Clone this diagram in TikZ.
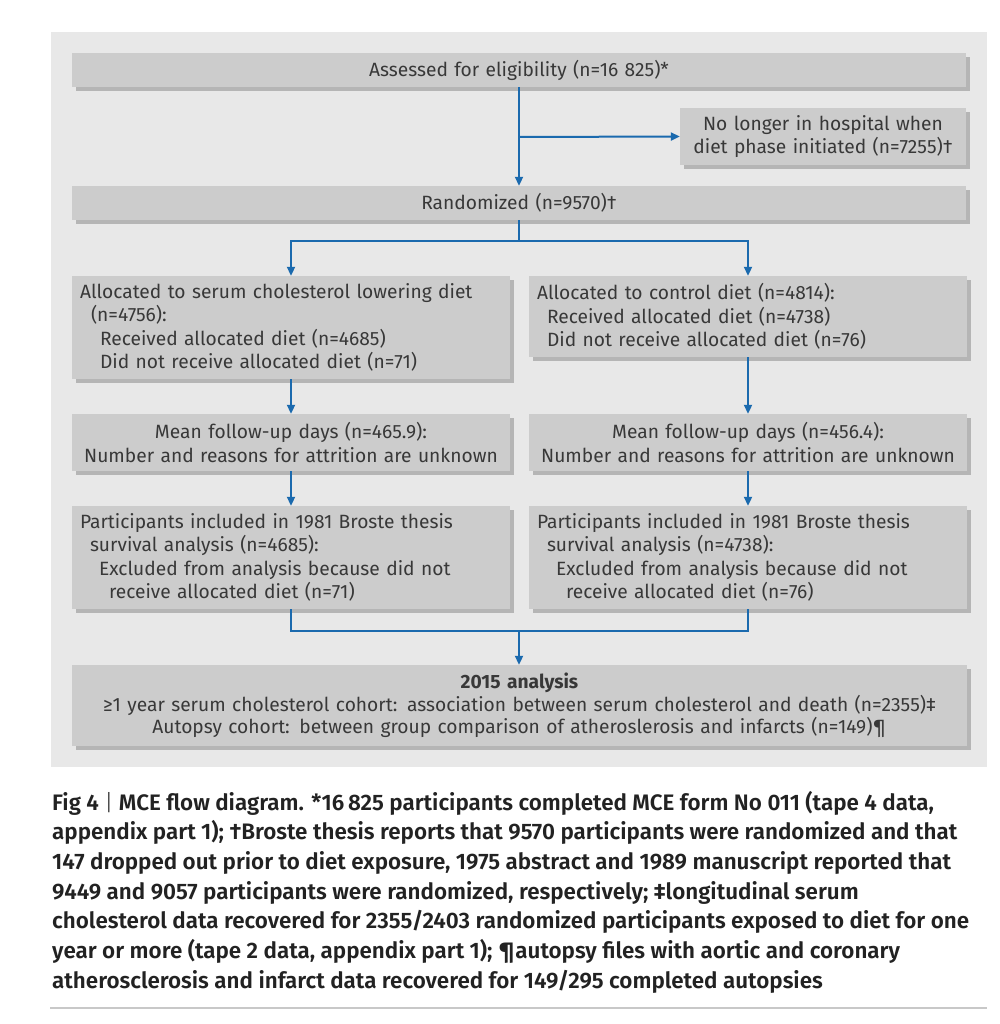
\documentclass[tikz,border=0pt]{standalone}
\usepackage{fontspec}
\setmainfont{Fira Sans}
\IfFontExistsTF{Fira Sans SemiBold}
  {\newfontfamily\capfont{Fira Sans SemiBold}\newcommand\capweight{}}
  {\IfFontExistsTF{Fira Sans Medium}
    {\newfontfamily\capfont{Fira Sans Medium}\newcommand\capweight{}}
    {\newfontfamily\capfont{Fira Sans}\newcommand\capweight{\bfseries}}}
\usetikzlibrary{arrows.meta,shadows}
\definecolor{panel}{HTML}{E8E8E8}
\definecolor{boxfill}{HTML}{CCCCCC}
\definecolor{boxshadow}{HTML}{B5B5B5}
\definecolor{flowblue}{HTML}{1B6AAE}
\definecolor{txt}{HTML}{383838}
\definecolor{captxt}{HTML}{222222}
\definecolor{rulegray}{HTML}{C8C8C8}
\begin{document}
\begin{tikzpicture}[x=1pt,y=-1pt,
  box/.style={fill=boxfill, draw=none, inner xsep=8pt, inner ysep=0pt, text=txt,
    font=\fontsize{19.2}{23.5}\selectfont,
    drop shadow={shadow xshift=4pt, shadow yshift=-4pt, fill=boxshadow, opacity=1}},
  arr/.style={draw=flowblue, line width=2pt, -{Triangle[length=9pt,width=8pt]}},
  ln/.style={draw=flowblue, line width=2pt},
  capline/.style={anchor=base west, inner sep=0pt, text=captxt,
    font=\capfont\capweight\fontsize{22.4}{29.7}\selectfont}
]
\useasboundingbox (0,0) rectangle (999,1024);
\fill[panel] (51,32) rectangle (987,767);

\node[box, minimum width=894pt, minimum height=34pt, text width=878pt, align=center]
  (assess) at (519,70) {Assessed for eligibility (n=16 825)*};
\node[box, minimum width=286pt, minimum height=57pt, text width=270pt, align=center]
  (nolonger) at (823,136.5) {No longer in hospital when\\diet phase initiated (n=7255)\dag};
\node[box, minimum width=894pt, minimum height=34pt, text width=878pt, align=center]
  (random) at (519,203) {Randomized (n=9570)\dag};

\node[box, minimum width=438pt, minimum height=103pt, text width=422pt, align=left]
  (allocL) at (291,327.5) {Allocated to serum cholesterol lowering diet\\
  \hspace*{11pt}(n=4756):\\
  \hspace*{20pt}Received allocated diet (n=4685)\\
  \hspace*{20pt}Did not receive allocated diet (n=71)};
\node[box, minimum width=438pt, minimum height=81pt, text width=422pt, align=left]
  (allocR) at (748,316.5) {Allocated to control diet (n=4814):\\
  \hspace*{10pt}Received allocated diet (n=4738)\\
  \hspace*{10pt}Did not receive allocated diet (n=76)};

\node[box, minimum width=438pt, minimum height=57pt, text width=422pt, align=center]
  (meanL) at (291,442.5) {Mean follow-up days (n=465.9):\\Number and reasons for attrition are unknown};
\node[box, minimum width=438pt, minimum height=57pt, text width=422pt, align=center]
  (meanR) at (748,442.5) {Mean follow-up days (n=456.4):\\Number and reasons for attrition are unknown};

\node[box, minimum width=438pt, minimum height=103pt, text width=422pt, align=left]
  (partL) at (291,557.5) {Participants included in 1981 Broste thesis\\
  \hspace*{10pt}survival analysis (n=4685):\\
  \hspace*{19pt}Excluded from analysis because did not\\
  \hspace*{29pt}receive allocated diet (n=71)};
\node[box, minimum width=438pt, minimum height=103pt, text width=422pt, align=left]
  (partR) at (748,557.5) {Participants included in 1981 Broste thesis\\
  \hspace*{10pt}survival analysis (n=4738):\\
  \hspace*{19pt}Excluded from analysis because did not\\
  \hspace*{29pt}receive allocated diet (n=76)};

\node[box, minimum width=895pt, minimum height=81pt, text width=879pt, align=center,
  font=\fontsize{19.2}{22.5}\selectfont]
  (final) at (519.5,705.5) {\textbf{2015 analysis}\\
  ≥1 year serum cholesterol cohort: association between serum cholesterol and death (n=2355)\ddag\\
  Autopsy cohort: between group comparison of atheroslerosis and infarcts (n=149)\P};

% connectors
\coordinate (split) at (519,137);
\coordinate (rsplit) at (519,241);
\coordinate (join) at (519,631);
\draw[arr] (assess.south) -- (random.north);
\draw[arr] (split) -- (nolonger.west);
\draw[ln] (random.south) -- (rsplit);
\draw[arr] (rsplit) -| (allocL.north);
\draw[arr] (rsplit) -| (allocR.north);
\draw[arr] (allocL.south) -- (meanL.north);
\draw[arr] (allocR.south) -- (meanR.north);
\draw[arr] (meanL.south) -- (partL.north);
\draw[arr] (meanR.south) -- (partR.north);
\draw[ln] (partL.south) |- (join);
\draw[ln] (partR.south) |- (join);
\draw[arr] (join) -- (final.north -| join);

% caption
\node[capline] (cap1) at (52,810) {Fig 4 {\fontspec{Fira Sans Light}|} MCE flow diagram. *16\,825 participants completed MCE form No 011 (tape 4 data,};
\node[capline] (cap2) at (52,839.7) {appendix part 1); \dag Broste thesis reports that 9570 participants were randomized and that};
\node[capline] (cap3) at (52,869.4) {147 dropped out prior to diet exposure, 1975 abstract and 1989 manuscript reported that};
\node[capline] (cap4) at (52,899.1) {9449 and 9057 participants were randomized, respectively; \ddag longitudinal serum};
\node[capline] (cap5) at (52,928.8) {cholesterol data recovered for 2355/2403 randomized participants exposed to diet for one};
\node[capline] (cap6) at (52,958.5) {year or more (tape 2 data, appendix part 1); \P autopsy files with aortic and coronary};
\node[capline] (cap7) at (52,988.2) {atherosclerosis and infarct data recovered for 149/295 completed autopsies};
\draw[rulegray, line width=2pt] (50,1008) -- (987,1008);
\end{tikzpicture}
\end{document}
